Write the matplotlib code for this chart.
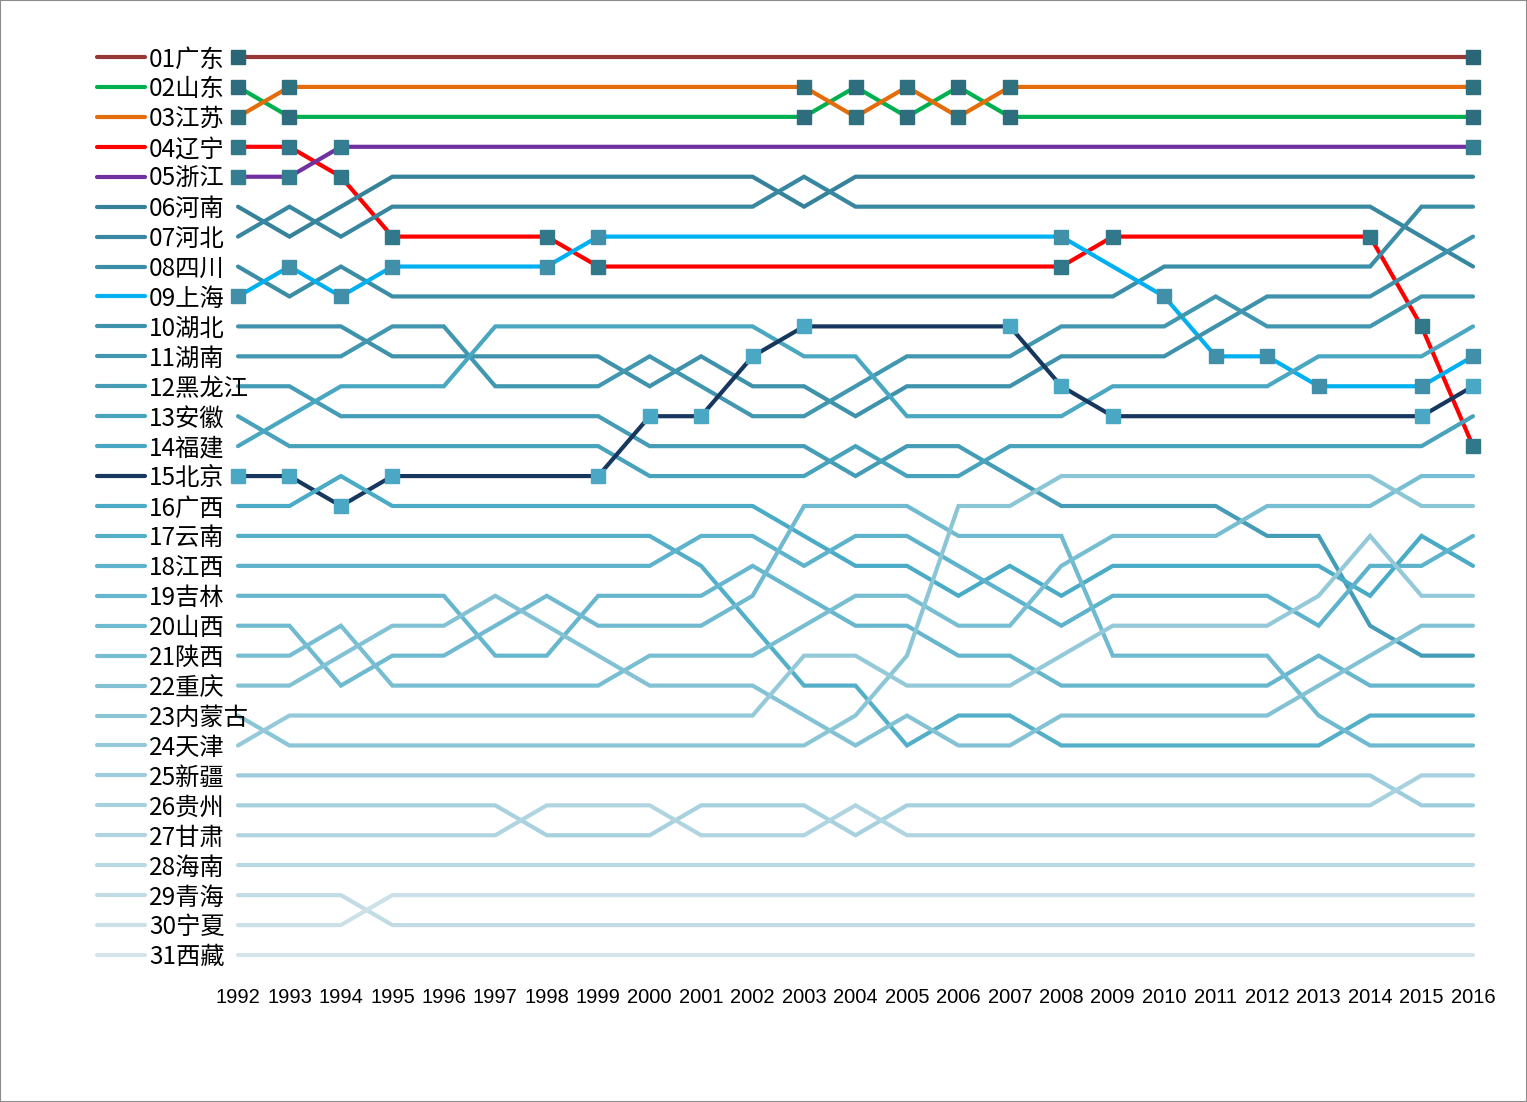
import matplotlib
matplotlib.use("Agg")
import matplotlib.pyplot as plt
from matplotlib.colors import to_rgb, to_hex
from matplotlib.patches import Rectangle

# GDP rank of each province, 1992 .. 2016
years = [1992, 1993, 1994, 1995, 1996, 1997, 1998, 1999, 2000, 2001, 2002, 2003,
         2004, 2005, 2006, 2007, 2008, 2009, 2010, 2011, 2012, 2013, 2014, 2015, 2016]

names = ["01广东", "02山东", "03江苏", "04辽宁", "05浙江", "06河南", "07河北", "08四川",
         "09上海", "10湖北", "11湖南", "12黑龙江", "13安徽", "14福建", "15北京", "16广西",
         "17云南", "18江西", "19吉林", "20山西", "21陕西", "22重庆", "23内蒙古", "24天津",
         "25新疆", "26贵州", "27甘肃", "28海南", "29青海", "30宁夏", "31西藏"]

guangdong = [1, 1, 1, 1, 1, 1, 1, 1, 1, 1, 1, 1, 1, 1, 1, 1, 1, 1, 1, 1, 1, 1, 1, 1, 1]
shandong = [2, 3, 3, 3, 3, 3, 3, 3, 3, 3, 3, 3, 2, 3, 2, 3, 3, 3, 3, 3, 3, 3, 3, 3, 3]
jiangsu = [3, 2, 2, 2, 2, 2, 2, 2, 2, 2, 2, 2, 3, 2, 3, 2, 2, 2, 2, 2, 2, 2, 2, 2, 2]
liaoning = [4, 4, 5, 7, 7, 7, 7, 8, 8, 8, 8, 8, 8, 8, 8, 8, 8, 7, 7, 7, 7, 7, 7, 10, 14]
zhejiang = [5, 5, 4, 4, 4, 4, 4, 4, 4, 4, 4, 4, 4, 4, 4, 4, 4, 4, 4, 4, 4, 4, 4, 4, 4]
henan = [6, 7, 6, 5, 5, 5, 5, 5, 5, 5, 5, 6, 5, 5, 5, 5, 5, 5, 5, 5, 5, 5, 5, 5, 5]
hebei = [7, 6, 7, 6, 6, 6, 6, 6, 6, 6, 6, 5, 6, 6, 6, 6, 6, 6, 6, 6, 6, 6, 6, 7, 8]
sichuan = [8, 9, 8, 9, 9, 9, 9, 9, 9, 9, 9, 9, 9, 9, 9, 9, 9, 9, 8, 8, 8, 8, 8, 6, 6]
shanghai = [9, 8, 9, 8, 8, 8, 8, 7, 7, 7, 7, 7, 7, 7, 7, 7, 7, 8, 9, 11, 11, 12, 12, 12, 11]
hubei = [10, 10, 10, 11, 11, 11, 11, 11, 12, 11, 12, 12, 13, 12, 12, 12, 11, 11, 11, 10, 9, 9, 9, 8, 7]
hunan = [11, 11, 11, 10, 10, 12, 12, 12, 11, 12, 13, 13, 12, 11, 11, 11, 10, 10, 10, 9, 10, 10, 10, 9, 9]
heilongjiang = [12, 12, 13, 13, 13, 13, 13, 13, 14, 14, 14, 14, 15, 14, 14, 15, 16, 16, 16, 16, 17, 17, 20, 21, 21]
anhui = [13, 14, 14, 14, 14, 14, 14, 14, 15, 15, 15, 15, 14, 15, 15, 14, 14, 14, 14, 14, 14, 14, 14, 14, 13]
fujian = [14, 13, 12, 12, 12, 10, 10, 10, 10, 10, 10, 11, 11, 13, 13, 13, 13, 12, 12, 12, 12, 11, 11, 11, 10]
beijing = [15, 15, 16, 15, 15, 15, 15, 15, 13, 13, 11, 10, 10, 10, 10, 10, 12, 13, 13, 13, 13, 13, 13, 13, 12]
guangxi = [16, 16, 15, 16, 16, 16, 16, 16, 16, 16, 16, 17, 18, 18, 19, 18, 19, 18, 18, 18, 18, 18, 19, 17, 18]
yunnan = [17, 17, 17, 17, 17, 17, 17, 17, 17, 18, 20, 22, 22, 24, 23, 23, 24, 24, 24, 24, 24, 24, 23, 23, 23]
jiangxi = [18, 18, 18, 18, 18, 18, 18, 18, 18, 17, 17, 18, 17, 17, 18, 19, 20, 19, 19, 19, 19, 20, 18, 18, 17]
jilin = [19, 19, 19, 19, 19, 21, 21, 19, 19, 19, 18, 19, 20, 20, 21, 21, 22, 22, 22, 22, 22, 21, 22, 22, 22]
shanxi = [20, 20, 22, 21, 21, 20, 19, 20, 20, 20, 19, 16, 16, 16, 17, 17, 17, 21, 21, 21, 21, 23, 24, 24, 24]
shaanxi = [21, 21, 20, 22, 22, 22, 22, 22, 21, 21, 21, 20, 19, 19, 20, 20, 18, 17, 17, 17, 16, 16, 16, 15, 15]
chongqing = [22, 22, 21, 20, 20, 19, 20, 21, 22, 22, 22, 23, 24, 23, 24, 24, 23, 23, 23, 23, 23, 22, 21, 20, 20]
neimenggu = [23, 24, 24, 24, 24, 24, 24, 24, 24, 24, 24, 24, 23, 21, 16, 16, 15, 15, 15, 15, 15, 15, 15, 16, 16]
tianjin = [24, 23, 23, 23, 23, 23, 23, 23, 23, 23, 23, 21, 21, 22, 22, 22, 21, 20, 20, 20, 20, 19, 17, 19, 19]
xinjiang = [25, 25, 25, 25, 25, 25, 25, 25, 25, 25, 25, 25, 25, 25, 25, 25, 25, 25, 25, 25, 25, 25, 25, 26, 26]
guizhou = [26, 26, 26, 26, 26, 26, 27, 27, 27, 26, 26, 26, 27, 26, 26, 26, 26, 26, 26, 26, 26, 26, 26, 25, 25]
gansu = [27, 27, 27, 27, 27, 27, 26, 26, 26, 27, 27, 27, 26, 27, 27, 27, 27, 27, 27, 27, 27, 27, 27, 27, 27]
hainan = [28, 28, 28, 28, 28, 28, 28, 28, 28, 28, 28, 28, 28, 28, 28, 28, 28, 28, 28, 28, 28, 28, 28, 28, 28]
qinghai = [29, 29, 29, 30, 30, 30, 30, 30, 30, 30, 30, 30, 30, 30, 30, 30, 30, 30, 30, 30, 30, 30, 30, 30, 30]
ningxia = [30, 30, 30, 29, 29, 29, 29, 29, 29, 29, 29, 29, 29, 29, 29, 29, 29, 29, 29, 29, 29, 29, 29, 29, 29]
xizang = [31, 31, 31, 31, 31, 31, 31, 31, 31, 31, 31, 31, 31, 31, 31, 31, 31, 31, 31, 31, 31, 31, 31, 31, 31]

series = [guangdong, shandong, jiangsu, liaoning, zhejiang, henan, hebei, sichuan,
          shanghai, hubei, hunan, heilongjiang, anhui, fujian, beijing, guangxi,
          yunnan, jiangxi, jilin, shanxi, shaanxi, chongqing, neimenggu, tianjin,
          xinjiang, guizhou, gansu, hainan, qinghai, ningxia, xizang]

# highlighted series: line colour, marker colour
highlight = {0: ("#953735", "#2b6677"), 1: ("#00b050", "#2e6d7e"),
             2: ("#e46c0a", "#30717f"), 3: ("#ff0000", "#32788b"),
             4: ("#7030a0", "#357e91"), 8: ("#00b0f0", "#418fa8"),
             14: ("#17375e", "#4aa8c4")}


def blend(c0, c1, t):
    a, b = to_rgb(c0), to_rgb(c1)
    return to_hex([a[i] + (b[i] - a[i]) * t for i in range(3)])


colors = []
teal_a = [5, 6, 7, 9, 10, 11, 12, 13]
for i in range(31):
    if i in highlight:
        colors.append(highlight[i][0])
    elif i in teal_a:
        colors.append(blend("#35829a", "#4aa7c1", teal_a.index(i) / 7))
    else:
        colors.append(blend("#4aabc6", "#d5e4ea", (i - 15) / 15))

W, H = 1527, 1102
fig = plt.figure(figsize=(W / 100, H / 100), dpi=100)
x0, x1, y0, y1 = 238, 1473, 57, 955
ax = fig.add_axes([x0 / W, 1 - y1 / H, (x1 - x0) / W, (y1 - y0) / H])
ax.set_xlim(0, len(years) - 1)
ax.set_ylim(31, 1)
for s in ax.spines.values():
    s.set_visible(False)
ax.set_yticks([])
ax.set_xticks(range(len(years)))
ax.set_xticklabels([str(y) for y in years], fontsize=14.5,
                   family=["Liberation Sans", "DejaVu Sans"])
ax.tick_params(axis="x", length=0, pad=24)

xs = list(range(len(years)))
lw = 3.0
for i, ranks in enumerate(series):
    ax.plot(xs, ranks, color=colors[i], lw=lw, solid_capstyle="round",
            solid_joinstyle="miter", zorder=2 + i * 0.01, clip_on=False)
    if i in highlight:
        # markers where the line changes direction
        idx = [0]
        for k in range(1, len(ranks) - 1):
            if ranks[k] - ranks[k - 1] != ranks[k + 1] - ranks[k]:
                idx.append(k)
        idx.append(len(ranks) - 1)
        ax.plot([xs[k] for k in idx], [ranks[k] for k in idx], ls="none",
                marker="s", ms=9.5, mfc=highlight[i][1], mec=highlight[i][1],
                zorder=2 + i * 0.01 + 0.005, clip_on=False)

# legend drawn along the rank rows
px = (x1 - x0) / (len(years) - 1)
lx0, lx1, tx = (97 - x0) / px, (145 - x0) / px, (149 - x0) / px
for i, name in enumerate(names):
    ax.plot([lx0, lx1], [i + 1, i + 1], color=colors[i], lw=lw,
            solid_capstyle="round", clip_on=False)
    ax.text(tx, i + 1.08, name, fontsize=17.5, va="center", ha="left",
            family=["Noto Sans CJK SC", "DejaVu Sans"], color="black")

fig.patches.append(Rectangle((0, 0), 1, 1, transform=fig.transFigure, fill=False,
                             edgecolor="#8c8c8c", lw=1.5))

fig.savefig("out.png", dpi=100, facecolor="white")
